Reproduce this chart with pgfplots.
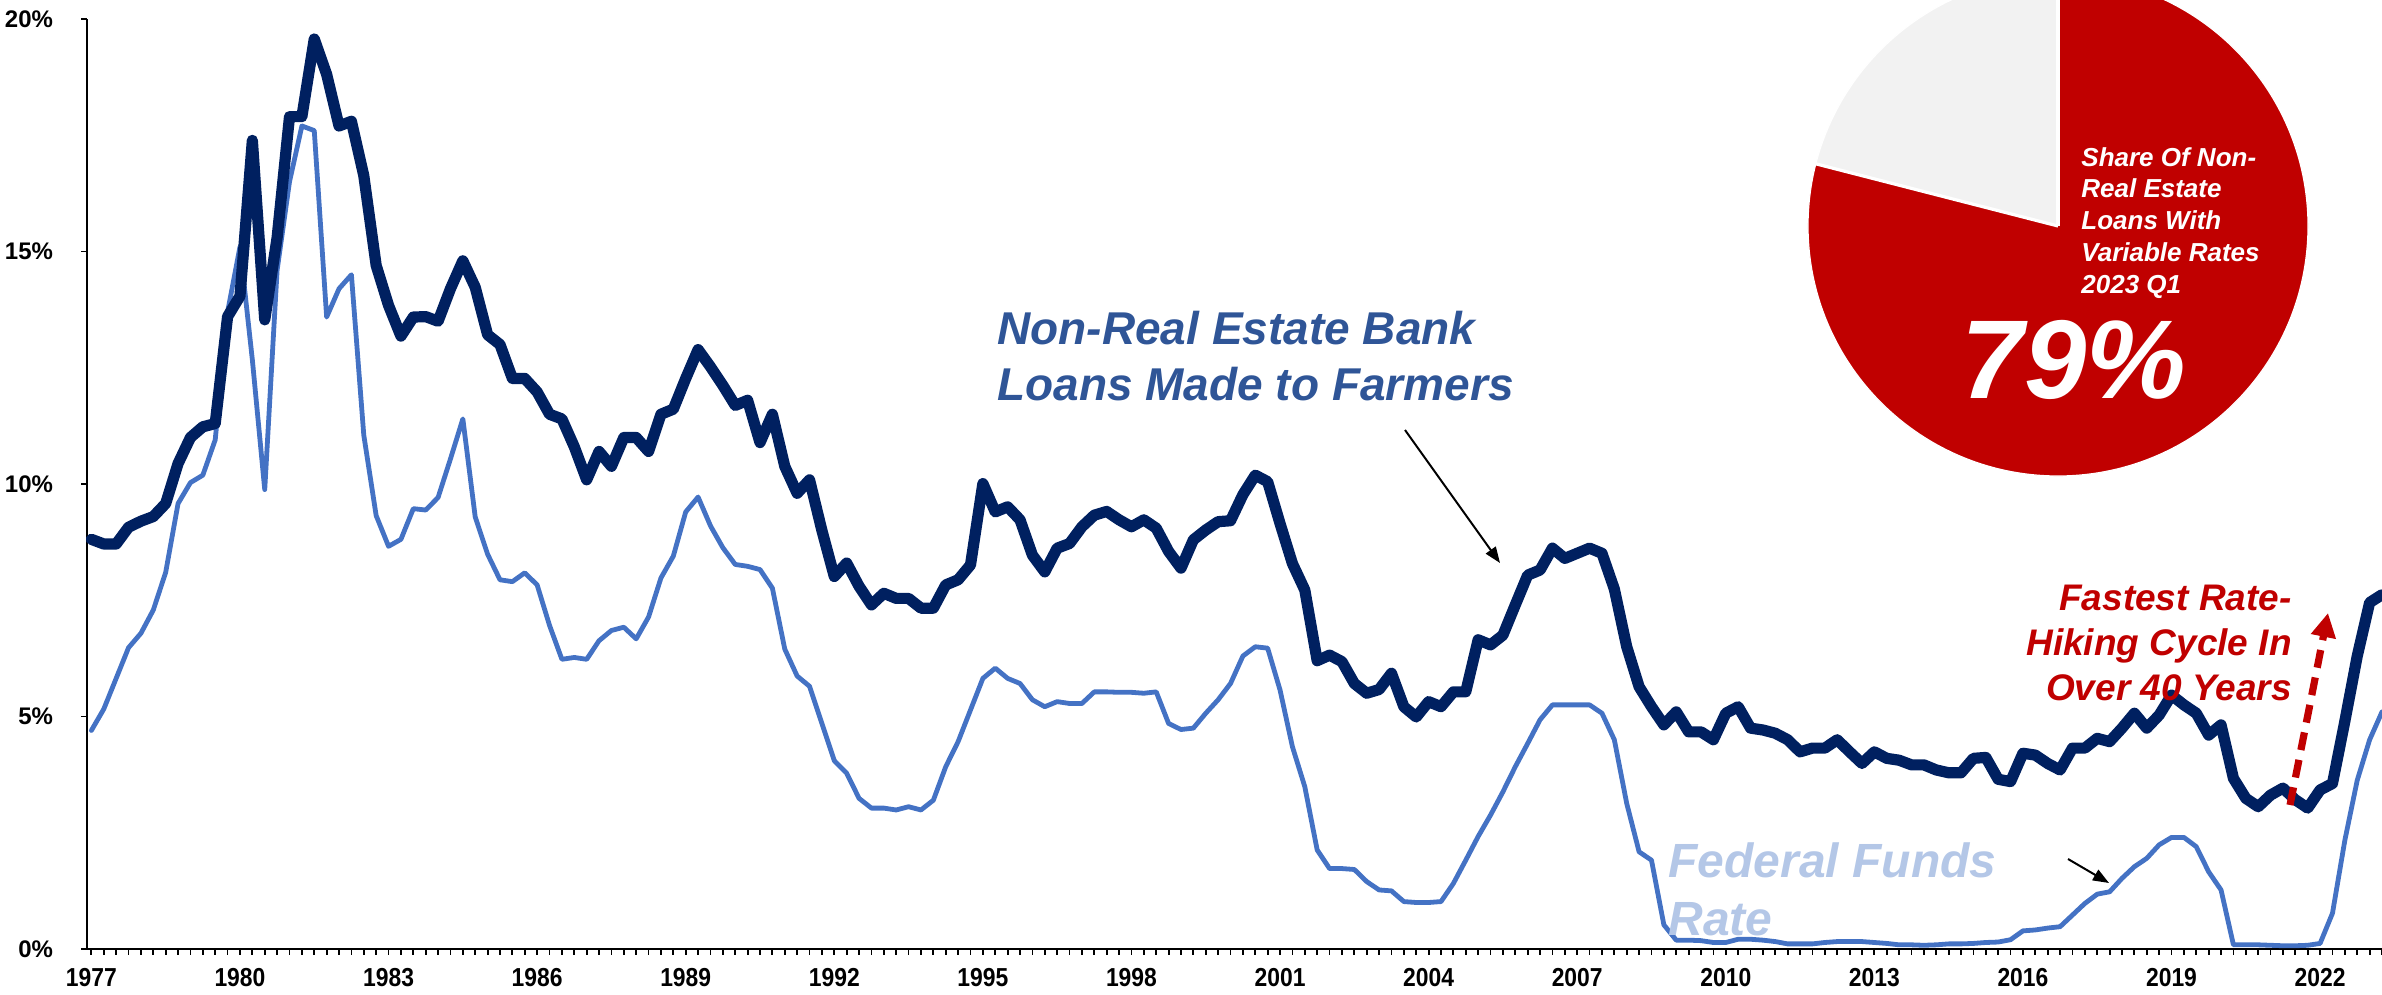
\documentclass[border=0pt]{standalone}
\usepackage{fontspec}
\setmainfont{Liberation Sans}
\newfontfamily\narrowfont[FakeStretch=0.88]{Liberation Sans}
\usepackage{pgfplots}
\usepackage{pgfplotstable}
\pgfplotsset{compat=1.18}
\usetikzlibrary{arrows.meta}

\definecolor{loanblue}{HTML}{002060}
\definecolor{fedblue}{HTML}{4472C4}
\definecolor{labelblue}{HTML}{2F5597}
\definecolor{fedlabel}{HTML}{B4C7E7}
\definecolor{hikered}{HTML}{C00000}
\definecolor{piegrey}{HTML}{F2F2F2}

% quarterly, 0 = 1977 Q1 ... 185 = 2023 Q2
\pgfplotstableread{
q loan ffr
0 8.81 4.70
1 8.71 5.16
2 8.71 5.82
3 9.07 6.48
4 9.20 6.79
5 9.30 7.29
6 9.58 8.10
7 10.44 9.58
8 11.00 10.03
9 11.23 10.19
10 11.30 10.95
11 13.60 13.70
12 14.04 15.10
13 17.39 12.67
14 13.53 9.88
15 15.30 14.60
16 17.90 16.50
17 17.90 17.70
18 19.57 17.60
19 18.81 13.59
20 17.70 14.20
21 17.80 14.50
22 16.63 11.05
23 14.70 9.32
24 13.84 8.66
25 13.18 8.81
26 13.59 9.47
27 13.60 9.44
28 13.50 9.71
29 14.20 10.54
30 14.80 11.40
31 14.23 9.29
32 13.21 8.49
33 13.00 7.94
34 12.27 7.90
35 12.27 8.09
36 11.98 7.83
37 11.50 6.96
38 11.40 6.23
39 10.80 6.27
40 10.09 6.23
41 10.70 6.63
42 10.38 6.85
43 11.00 6.92
44 11.00 6.67
45 10.70 7.14
46 11.50 7.98
47 11.61 8.45
48 12.27 9.40
49 12.89 9.72
50 12.52 9.10
51 12.12 8.63
52 11.69 8.27
53 11.80 8.23
54 10.89 8.16
55 11.50 7.76
56 10.38 6.45
57 9.80 5.87
58 10.09 5.65
59 9.00 4.85
60 8.01 4.05
61 8.30 3.78
62 7.80 3.24
63 7.40 3.03
64 7.65 3.03
65 7.54 2.99
66 7.54 3.06
67 7.33 2.99
68 7.33 3.20
69 7.83 3.92
70 7.94 4.46
71 8.26 5.14
72 10.01 5.82
73 9.40 6.04
74 9.51 5.82
75 9.23 5.71
76 8.47 5.36
77 8.11 5.21
78 8.62 5.32
79 8.72 5.28
80 9.08 5.28
81 9.33 5.53
82 9.41 5.53
83 9.23 5.52
84 9.08 5.52
85 9.23 5.50
86 9.05 5.53
87 8.55 4.85
88 8.19 4.72
89 8.80 4.75
90 9.01 5.07
91 9.19 5.36
92 9.21 5.71
93 9.77 6.30
94 10.19 6.50
95 10.05 6.47
96 9.15 5.57
97 8.29 4.35
98 7.72 3.49
99 6.20 2.13
100 6.32 1.73
101 6.18 1.73
102 5.71 1.71
103 5.50 1.45
104 5.58 1.27
105 5.93 1.25
106 5.21 1.02
107 4.99 1.00
108 5.32 1.00
109 5.21 1.02
110 5.53 1.41
111 5.53 1.91
112 6.65 2.42
113 6.54 2.88
114 6.75 3.38
115 7.40 3.92
116 8.04 4.42
117 8.15 4.93
118 8.62 5.25
119 8.40 5.25
120 8.51 5.25
121 8.62 5.25
122 8.51 5.07
123 7.74 4.50
124 6.50 3.13
125 5.64 2.09
126 5.21 1.91
127 4.82 0.52
128 5.10 0.19
129 4.67 0.19
130 4.67 0.18
131 4.50 0.14
132 5.07 0.14
133 5.21 0.21
134 4.75 0.21
135 4.71 0.19
136 4.64 0.16
137 4.50 0.11
138 4.24 0.11
139 4.32 0.11
140 4.32 0.14
141 4.50 0.16
142 4.24 0.16
143 3.99 0.16
144 4.24 0.14
145 4.10 0.12
146 4.06 0.09
147 3.96 0.09
148 3.96 0.08
149 3.85 0.09
150 3.79 0.11
151 3.79 0.11
152 4.10 0.12
153 4.12 0.14
154 3.65 0.15
155 3.60 0.20
156 4.21 0.39
157 4.17 0.41
158 3.99 0.45
159 3.85 0.48
160 4.32 0.73
161 4.32 0.98
162 4.53 1.18
163 4.46 1.23
164 4.75 1.52
165 5.07 1.77
166 4.75 1.95
167 5.03 2.24
168 5.46 2.40
169 5.25 2.40
170 5.07 2.20
171 4.60 1.66
172 4.82 1.27
173 3.67 0.09
174 3.24 0.09
175 3.06 0.09
176 3.31 0.08
177 3.46 0.07
178 3.21 0.07
179 3.03 0.08
180 3.42 0.12
181 3.56 0.77
182 4.90 2.34
183 6.30 3.63
184 7.45 4.50
185 7.62 5.10
}\rates

\tikzset{
  note/.style={inner sep=0pt, font=\bfseries\itshape},
}

\begin{document}
\begin{tikzpicture}
\begin{axis}[
  at={(43.5pt,-474.5pt)}, anchor=south west,
  scale only axis, width=1147.5pt, height=465pt,
  xmin=-0.355, xmax=185, ymin=0, ymax=20,
  axis x line*=bottom, axis y line*=left,
  axis line style={line width=1.4pt, -},
  tick align=outside,
  major tick length=2.8pt, minor tick length=2.8pt,
  tick style={line width=0.9pt, black},
  xtick={0,12,...,180},
  xticklabels={1977,1980,1983,1986,1989,1992,1995,1998,2001,2004,2007,2010,2013,2016,2019,2022},
  minor xtick={0,...,185},
  ytick={0,5,10,15,20},
  yticklabels={0\%,5\%,10\%,15\%,20\%},
  xticklabel style={font=\fontsize{13}{13}\selectfont\narrowfont\bfseries, inner sep=0pt, anchor=north, yshift=-6.5pt},
  yticklabel style={font=\fontsize{12}{12}\selectfont\bfseries, inner sep=0pt, anchor=east, xshift=-14pt},
  clip=false,
]
\addplot[fedblue, line width=2.4pt, line join=round, line cap=round] table[x=q, y=ffr] {\rates};
\addplot[loanblue, line width=5.6pt, line join=round, line cap=round] table[x=q, y=loan] {\rates};
\end{axis}

% annotations, in pixels of the 2382 x 995 picture (origin top left)
\begin{scope}[x=0.5pt, y=-0.5pt]
  \node[note, anchor=base west, text=labelblue, font=\fontsize{23}{23}\selectfont\bfseries\itshape] at (997,344) {Non-Real Estate Bank};
  \node[note, anchor=base west, text=labelblue, font=\fontsize{23}{23}\selectfont\bfseries\itshape] at (997,400) {Loans Made to Farmers};
  \draw[black, line width=1pt, -{Triangle[length=8pt, width=6pt]}] (1405,430) -- (1500,563);

  \node[note, anchor=base west, text=fedlabel, font=\fontsize{24}{24}\selectfont\bfseries\itshape] at (1668,877) {Federal Funds};
  \node[note, anchor=base west, text=fedlabel, font=\fontsize{24}{24}\selectfont\bfseries\itshape] at (1668,935) {Rate};
  \draw[black, line width=1pt, -{Triangle[length=8pt, width=6pt]}] (2068,859) -- (2109,883);

  \node[note, anchor=base east, text=hikered, font=\fontsize{18.5}{18.5}\selectfont\bfseries\itshape] at (2292,610) {Fastest Rate-};
  \node[note, anchor=base east, text=hikered, font=\fontsize{18.5}{18.5}\selectfont\bfseries\itshape] at (2292,655) {Hiking Cycle In};
  \node[note, anchor=base east, text=hikered, font=\fontsize{18.5}{18.5}\selectfont\bfseries\itshape] at (2292,700) {Over 40 Years};
  \draw[hikered, line width=3.6pt, dash pattern=on 9pt off 5pt, -{Triangle[length=12pt, width=12pt]}] (2290,805) -- (2328,613);

  % pie: share of non-real estate loans with variable rates
  \pgfmathsetmacro{\share}{79}
  \pgfmathsetmacro{\cut}{90+360*(100-\share)/100}
  \coordinate (pc) at (2058,226);
  \fill[piegrey] (pc) -- ++(90:125pt) arc[start angle=90, end angle=\cut, radius=125pt] -- cycle;
  \fill[hikered] (pc) -- ++(\cut:125pt) arc[start angle=\cut, end angle=450, radius=125pt] -- cycle;
  \draw[white, line width=1.6pt] (pc) -- ++(90:125pt);
  \draw[white, line width=1.6pt] (pc) -- ++(\cut:125pt);
  \draw[white, line width=0.6pt] (pc) circle[radius=125pt];
  \node[note, anchor=base west, text=white, font=\fontsize{13}{13}\selectfont\bfseries\itshape] at (2081,166) {Share Of Non-};
  \node[note, anchor=base west, text=white, font=\fontsize{13}{13}\selectfont\bfseries\itshape] at (2081,197) {Real Estate};
  \node[note, anchor=base west, text=white, font=\fontsize{13}{13}\selectfont\bfseries\itshape] at (2081,229) {Loans With};
  \node[note, anchor=base west, text=white, font=\fontsize{13}{13}\selectfont\bfseries\itshape] at (2081,261) {Variable Rates};
  \node[note, anchor=base west, text=white, font=\fontsize{13}{13}\selectfont\bfseries\itshape] at (2081,293) {2023 Q1};
  \node[note, anchor=base, text=white, font=\fontsize{56}{56}\selectfont\bfseries\itshape] at (2074,398) {\share\%};
\end{scope}

\pgfresetboundingbox
\path[use as bounding box] (0pt,0pt) rectangle (1191pt,-497.5pt);
\end{tikzpicture}
\end{document}
